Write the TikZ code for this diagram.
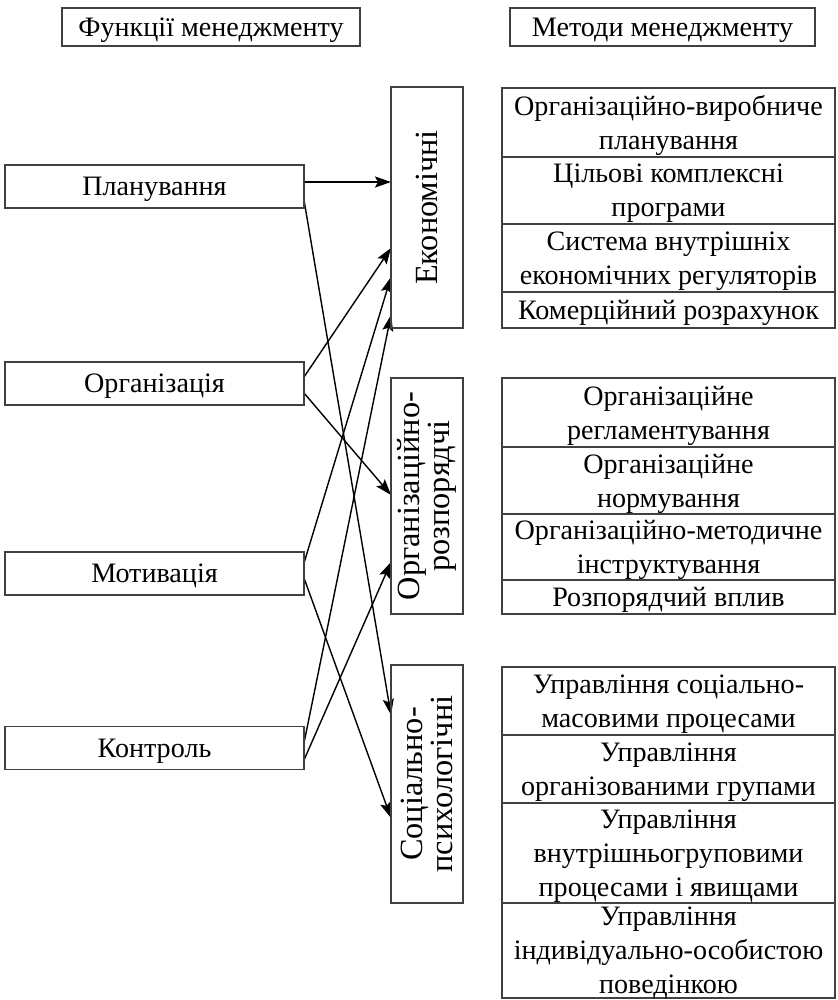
\documentclass[tikz,border=0pt]{standalone}
\usepackage{fontspec}
\setmainfont{Liberation Serif}
\usetikzlibrary{arrows.meta}
\pgfdeclarelayer{edgelayer}
\pgfdeclarelayer{nodelayer}
\pgfsetlayers{edgelayer,nodelayer,main}
\definecolor{framegray}{gray}{0.25}
\tikzstyle{none} = [inner sep=0pt]
\tikzstyle{title} = [draw=framegray, line width=2.2pt, minimum height=1.9cm, inner sep=0pt, text depth=0pt, font=\fontsize{40}{48.4}\selectfont]
\tikzstyle{function} = [draw=framegray, line width=2.2pt, minimum width=14.95cm, minimum height=2.15cm, inner sep=0pt, text depth=0pt, font=\fontsize{40}{48.4}\selectfont]
\tikzstyle{group} = [draw=framegray, line width=2.2pt, rotate=90, minimum height=3.6cm, inner sep=0pt, align=center, font=\fontsize{46}{43}\selectfont]
\tikzstyle{method} = [draw=framegray, line width=2.2pt, minimum width=16.65cm, inner sep=0pt, align=center, text depth=0pt, font=\fontsize{40}{48.4}\selectfont]
\tikzstyle{link} = [line width=2pt, -{Stealth[length=0.8cm, width=0.55cm, inset=0.15cm]}]

\begin{document}
\begin{tikzpicture}[scale = 0.5]
	\useasboundingbox (0, 0) rectangle (83.7, -100);
	\begin{pgfonlayer}{nodelayer}
		\node [style=title, minimum width=14.9cm] (0) at (21.1, -2.7) {Функції менеджменту};
		\node [style=title, minimum width=15.25cm] (1) at (66.25, -2.7) {Методи менеджменту};
		\node [style=function] (2) at (15.45, -18.65) {Планування};
		\node [style=function] (3) at (15.45, -38.35) {Організація};
		\node [style=function] (4) at (15.45, -57.35) {Мотивація};
		\node [style=function] (5) at (15.45, -74.8) {Контроль};
		\node [style=group, minimum width=12.05cm] (6) at (42.7, -20.75) {Економічні};
		\node [style=group, minimum width=11.8cm] (7) at (42.7, -49.6) {Організаційно-\\розпорядчі};
		\node [style=group, minimum width=11.9cm] (8) at (42.7, -78.4) {Соціально-\\психологічні};
		\node [style=method, minimum height=3.45cm] (9) at (66.85, -12.25) {Організаційно-виробниче\\планування};
		\node [style=method, minimum height=3.35cm] (10) at (66.85, -19.05) {Цільові комплексні\\програми};
		\node [style=method, minimum height=3.4cm] (11) at (66.85, -25.8) {Система внутрішніх\\економічних регуляторів};
		\node [style=method, minimum height=1.8cm] (12) at (66.85, -31) {Комерційний розрахунок};
		\node [style=method, minimum height=3.45cm] (13) at (66.85, -41.25) {Організаційне\\регламентування};
		\node [style=method, minimum height=3.35cm] (14) at (66.85, -48.05) {Організаційне\\нормування};
		\node [style=method, minimum height=3.3cm] (15) at (66.85, -54.7) {Організаційно-методичне\\інструктування};
		\node [style=method, minimum height=1.7cm] (16) at (66.85, -59.7) {Розпорядчий вплив};
		\node [style=method, minimum height=3.4cm] (17) at (66.85, -70.1) {Управління соціально-\\масовими процесами};
		\node [style=method, minimum height=3.4cm] (18) at (66.85, -76.9) {Управління\\організованими групами};
		\node [style=method, minimum height=5cm] (19) at (66.85, -85.3) {Управління\\внутрішньогруповими\\процесами і явищами};
		\node [style=method, minimum height=4.75cm] (20) at (66.85, -95.05) {Управління\\індивідуально-особистою\\поведінкою};
		\node [style=none] (21) at (30.4, -18.2) {};
		\node [style=none] (22) at (30.4, -20) {};
		\node [style=none] (23) at (30.4, -37.7) {};
		\node [style=none] (24) at (30.4, -39.3) {};
		\node [style=none] (25) at (30.4, -56.3) {};
		\node [style=none] (26) at (30.4, -57.8) {};
		\node [style=none] (27) at (30.4, -74.3) {};
		\node [style=none] (28) at (30.4, -76) {};
		\node [style=none] (29) at (39.1, -18.2) {};
		\node [style=none] (30) at (39.1, -24.8) {};
		\node [style=none] (31) at (39.1, -27.7) {};
		\node [style=none] (32) at (39.1, -31.5) {};
		\node [style=none] (33) at (39.1, -49.5) {};
		\node [style=none] (34) at (39.1, -56.2) {};
		\node [style=none] (35) at (39.1, -71.5) {};
		\node [style=none] (36) at (39.1, -81.8) {};
	\end{pgfonlayer}
	\begin{pgfonlayer}{edgelayer}
		\draw [style=link] (21.center) to (29.center);
		\draw [style=link] (22.center) to (35.center);
		\draw [style=link] (23.center) to (30.center);
		\draw [style=link] (24.center) to (33.center);
		\draw [style=link] (25.center) to (31.center);
		\draw [style=link] (26.center) to (36.center);
		\draw [style=link] (27.center) to (32.center);
		\draw [style=link] (28.center) to (34.center);
	\end{pgfonlayer}
\end{tikzpicture}
\end{document}
